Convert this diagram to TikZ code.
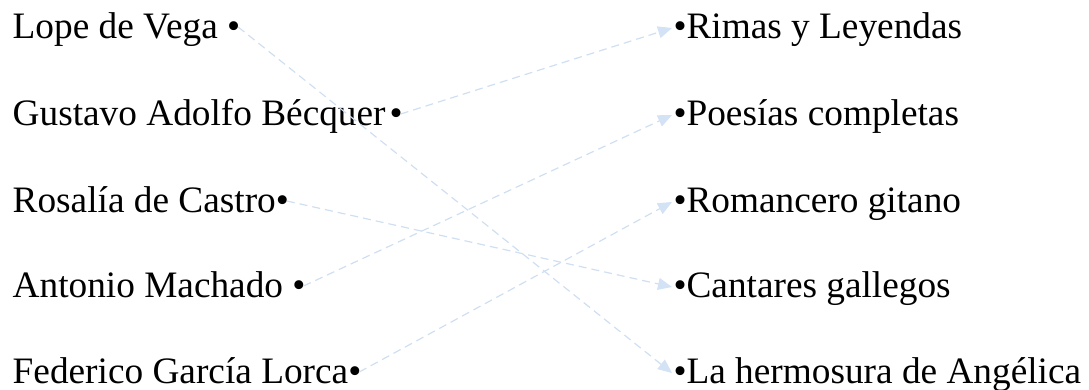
\documentclass[tikz,border=0pt]{standalone}
\usepackage{fontspec}
\setmainfont{Liberation Serif}
\usetikzlibrary{arrows.meta,calc}
\definecolor{linkblue}{HTML}{CFDFF2}
\definecolor{tipblue}{HTML}{D3E2F4}
\tikzset{
  lbl/.style={inner sep=0pt, outer sep=0pt, font=\fontsize{37.3}{44}\selectfont, text=black},
  link/.style={draw=linkblue, line width=1.2pt, dash pattern=on 8pt off 5pt,
    -{Triangle[length=14pt,width=12pt,fill=tipblue,color=tipblue]}}
}
\begin{document}
\begin{tikzpicture}[x=1pt,y=-1pt]
\useasboundingbox (0,0) rectangle (1089,389);
% left column
\node[lbl, anchor=base west] (a1) at (12.7,38) {Lope de Vega •};
\node[lbl, anchor=base west] (a2) at (12.7,125) {Gustavo Adolfo Bécquer\kern4pt•};
\node[lbl, anchor=base west] (a3) at (12.7,212) {Rosalía de Castro•};
\node[lbl, anchor=base west] (a4) at (12.7,297) {Antonio Machado •};
\node[lbl, anchor=base west] (a5) at (12.7,383) {Federico García Lorca•};
% right column
\node[lbl, anchor=base west] (b1) at (673.5,38) {•Rimas y Leyendas};
\node[lbl, anchor=base west] (b2) at (673.5,125) {•Poesías completas};
\node[lbl, anchor=base west] (b3) at (673.5,212) {•Romancero gitano};
\node[lbl, anchor=base west] (b4) at (673.5,297) {•Cantares gallegos};
\node[lbl, anchor=base west] (b5) at (673.5,383) {•La hermosura de Angélica};
% connector ends
\foreach \i in {1,...,5}{
  \coordinate (s\i) at ($(a\i.base east)+(-2,-11)$);
  \coordinate (e\i) at ($(b\i.base west)+(-1.5,-10)$);
}
\draw[link] (s1) -- (e5);
\draw[link] (s2) -- (e1);
\draw[link] (s3) -- (e4);
\draw[link] (s4) -- (e2);
\draw[link] (s5) -- (e3);
\end{tikzpicture}
\end{document}
